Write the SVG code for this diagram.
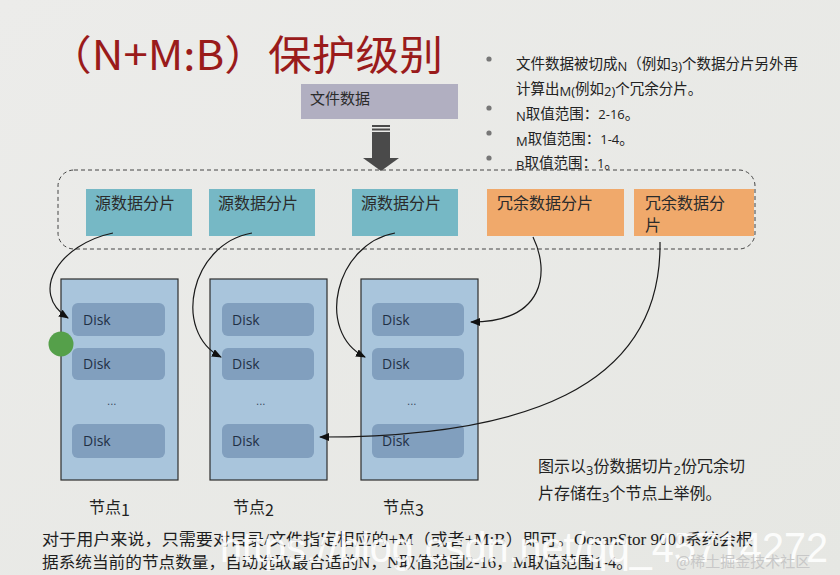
<svg xmlns="http://www.w3.org/2000/svg" width="840" height="575" viewBox="0 0 840 575">
<defs>
<linearGradient id="bg" x1="0" y1="0" x2="1" y2="1">
<stop offset="0" stop-color="#ececea"/>
<stop offset="1" stop-color="#e6e7e3"/>
</linearGradient>
<marker id="ah" markerUnits="userSpaceOnUse" markerWidth="10" markerHeight="8" refX="9" refY="4" orient="auto">
<path d="M0,0 L10,4 L0,8 z" fill="#111"/>
</marker>
<style>
.cjk{font-family:"Noto Sans CJK SC","Noto Sans",sans-serif;}
.src{fill:#76b8c5;}
.red{fill:#f0a96b;}
.boxt{font-size:16px;fill:#2b2b2b;}
.node{fill:#a9c5dc;stroke:#2e2e2e;stroke-width:1.2;}
.disk{fill:#819fbe;}
.dt{font-family:"Open Sans","DejaVu Sans",sans-serif;font-size:14px;fill:#1f3046;}
.dots{font-family:"DejaVu Sans",sans-serif;font-size:10px;fill:#34465a;}
.lbl{font-size:16px;fill:#222;}
.conn{fill:none;stroke:#1a1a1a;stroke-width:1.2;}
.bul{font-size:14.5px;fill:#222;}
.lat{font-family:"Open Sans","DejaVu Sans",sans-serif;font-size:13px;}
.foot{font-family:"Liberation Serif","Noto Sans CJK SC",serif;font-size:16px;fill:#1e1e1e;}
</style>
</defs>
<rect x="0" y="0" width="840" height="575" fill="url(#bg)"/>

<g id="title">
<text x="48" y="70" class="cjk" font-size="41" fill="#9a1b1b" textLength="395" lengthAdjust="spacingAndGlyphs">（N+M:B）保护级别</text>
</g>

<g id="file-data">
<rect x="301" y="84" width="157" height="35" fill="#b1afc1"/>
<text x="310" y="104" class="cjk" font-size="15" fill="#2b2b2b">文件数据</text>
</g>

<g id="big-arrow" fill="#4a4a4a">
<rect x="372" y="125" width="18" height="2"/>
<rect x="372" y="128.5" width="18" height="2"/>
<rect x="372" y="132" width="18" height="27"/>
<path d="M363,158 L399,158 L381,171 z"/>
</g>

<g id="bullets" class="cjk bul">
<circle cx="489" cy="59" r="2.6" fill="#777"/>
<circle cx="489" cy="108" r="2.6" fill="#777"/>
<circle cx="489" cy="133" r="2.6" fill="#777"/>
<circle cx="489" cy="158" r="2.6" fill="#777"/>
<text x="516" y="69">文件数据被切成<tspan class="lat" dy="2">N</tspan><tspan dy="-2">（例如</tspan><tspan class="lat" dy="2">3)</tspan><tspan dy="-2">个数据分片另外再</tspan></text>
<text x="516" y="94">计算出<tspan class="lat" dy="2">M(</tspan><tspan dy="-2">例如</tspan><tspan class="lat" dy="2">2)</tspan><tspan dy="-2">个冗余分片。</tspan></text>
<text x="516" y="119"><tspan class="lat" dy="2">N</tspan><tspan dy="-2">取值范围：</tspan><tspan class="lat">2-16</tspan>。</text>
<text x="516" y="144"><tspan class="lat" dy="2">M</tspan><tspan dy="-2">取值范围：</tspan><tspan class="lat">1-4</tspan>。</text>
<text x="516" y="168"><tspan class="lat" dy="2">B</tspan><tspan dy="-2">取值范围：</tspan><tspan class="lat">1</tspan>。</text>
</g>

<g id="stripe-group">
<rect x="58" y="170" width="697" height="79" rx="16" ry="16" fill="none" stroke="#444" stroke-width="1" stroke-dasharray="4,3"/>
</g>

<g id="src1">
<rect class="src" x="86" y="189" width="106" height="47"/>
<text class="cjk boxt" x="95" y="209">源数据分片</text>
</g>
<g id="src2">
<rect class="src" x="209" y="189" width="106" height="47"/>
<text class="cjk boxt" x="218" y="209">源数据分片</text>
</g>
<g id="src3">
<rect class="src" x="352" y="189" width="106" height="47"/>
<text class="cjk boxt" x="361" y="209">源数据分片</text>
</g>
<g id="red1">
<rect class="red" x="487" y="189" width="137" height="47"/>
<text class="cjk boxt" x="497" y="209">冗余数据分片</text>
</g>
<g id="red2">
<rect class="red" x="634" y="189" width="120" height="47"/>
<text class="cjk boxt" x="645" y="209">冗余数据分</text>
<text class="cjk boxt" x="645" y="231">片</text>
</g>

<g id="node1">
<rect class="node" x="61" y="279" width="117" height="201"/>
<rect class="disk" x="72" y="303" width="93" height="33" rx="6"/>
<text class="dt" x="83" y="325">Disk</text>
<rect class="disk" x="72" y="348" width="93" height="32" rx="6"/>
<text class="dt" x="83" y="369">Disk</text>
<text class="dots" x="107" y="405">...</text>
<rect class="disk" x="72" y="424" width="93" height="34" rx="6"/>
<text class="dt" x="83" y="446">Disk</text>
<text class="cjk lbl" x="89" y="513">节点<tspan dy="3">1</tspan></text>
</g>
<g id="node2">
<rect class="node" x="210" y="279" width="117" height="201"/>
<rect class="disk" x="222" y="303" width="92" height="33" rx="6"/>
<text class="dt" x="232" y="325">Disk</text>
<rect class="disk" x="222" y="348" width="92" height="32" rx="6"/>
<text class="dt" x="232" y="369">Disk</text>
<text class="dots" x="256" y="405">...</text>
<rect class="disk" x="222" y="424" width="92" height="34" rx="6"/>
<text class="dt" x="232" y="446">Disk</text>
<text class="cjk lbl" x="233" y="513">节点<tspan dy="3">2</tspan></text>
</g>
<g id="node3">
<rect class="node" x="361" y="279" width="117" height="201"/>
<rect class="disk" x="372" y="303" width="92" height="33" rx="6"/>
<text class="dt" x="382" y="325">Disk</text>
<rect class="disk" x="372" y="348" width="92" height="32" rx="6"/>
<text class="dt" x="382" y="369">Disk</text>
<text class="dots" x="407" y="405">...</text>
<rect class="disk" x="372" y="424" width="92" height="34" rx="6"/>
<text class="dt" x="382" y="446">Disk</text>
<text class="cjk lbl" x="383" y="513">节点<tspan dy="3">3</tspan></text>
</g>

<g id="connectors">
<path class="conn" marker-end="url(#ah)" d="M113,233 C60,244 28,292 68,318"/>
<path class="conn" marker-end="url(#ah)" d="M252,233 C190,244 172,332 221,357"/>
<path class="conn" marker-end="url(#ah)" d="M395,233 C335,244 315,332 365,357"/>
<path class="conn" marker-end="url(#ah)" d="M533,237 C550,272 545,322 471,322"/>
<path class="conn" marker-end="url(#ah)" d="M660,242 C662,390 520,437 320,437"/>
</g>

<g id="caption" class="cjk" font-size="16" fill="#222">
<text x="538" y="472">图示以<tspan class="lat" font-size="15" dy="3">3</tspan><tspan dy="-3">份数据切片</tspan><tspan class="lat" font-size="15" dy="3">2</tspan><tspan dy="-3">份冗余切</tspan></text>
<text x="538" y="499">片存储在<tspan class="lat" font-size="15" dy="3">3</tspan><tspan dy="-3">个节点上举例。</tspan></text>
</g>

<g id="footnote">
<text class="foot" x="42" y="545" textLength="711" lengthAdjust="spacingAndGlyphs">对于用户来说，只需要对目录/文件指定相应的+M（或者+M:B）即可。OceanStor 9000系统会根</text>
<text class="foot" x="42" y="568" textLength="591" lengthAdjust="spacingAndGlyphs">据系统当前的节点数量，自动选取最合适的N，N取值范围2-16，M取值范围1-4。</text>
</g>

<g id="cursor-dot">
<circle cx="61" cy="344" r="12.5" fill="#55a04a"/>
</g>

<g id="watermark">
<text x="220" y="562" font-family="Liberation Sans, Arial, sans-serif" font-size="42" fill="#ffffff" fill-opacity="0.9" textLength="608" lengthAdjust="spacingAndGlyphs">https://blog.csdn.net/qq_45714272</text>
<text x="676" y="567" class="cjk" font-size="15" fill="#c8c8c8">@稀土掘金技术社区</text>
</g>
</svg>
